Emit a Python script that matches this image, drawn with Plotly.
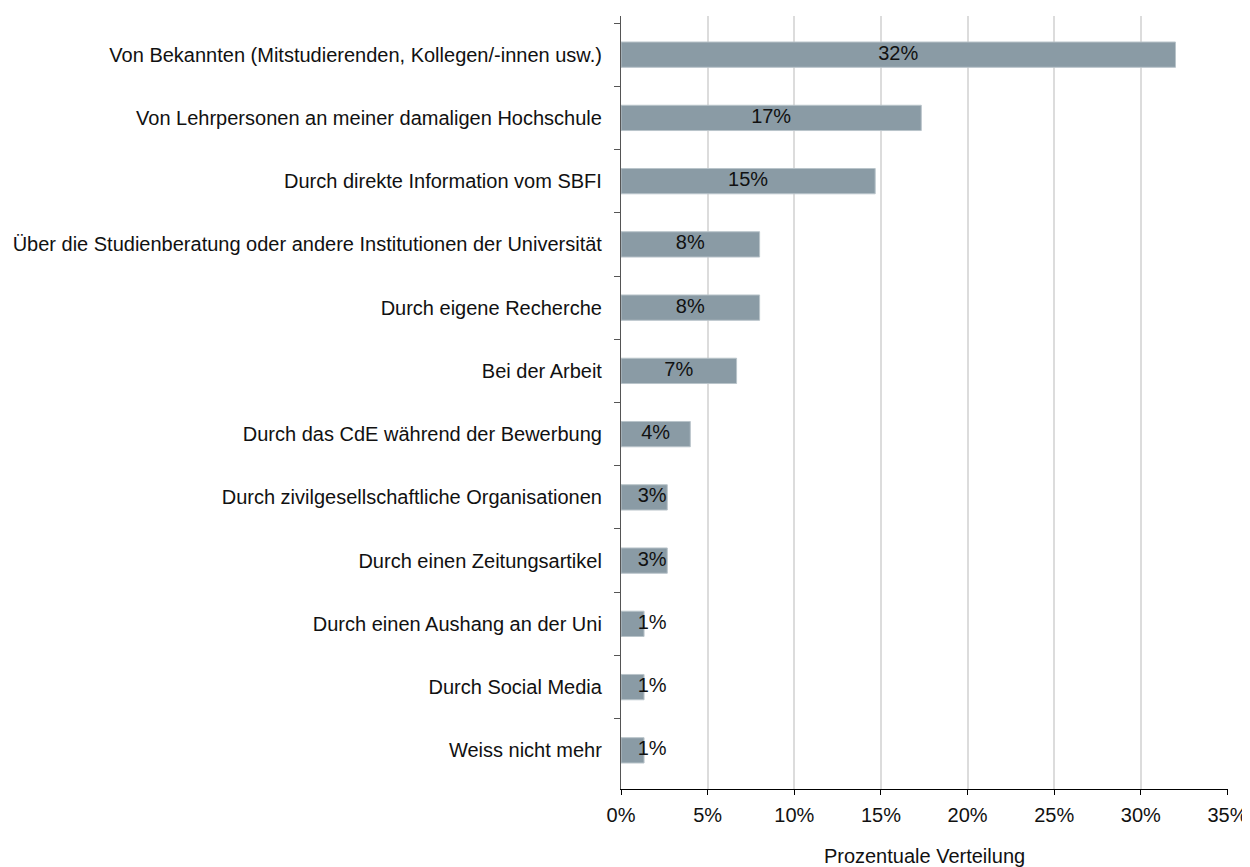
import plotly.graph_objects as go

# survey answers: how respondents heard about it (share in %)
categories = [
    "Von Bekannten (Mitstudierenden, Kollegen/-innen usw.)",
    "Von Lehrpersonen an meiner damaligen Hochschule",
    "Durch direkte Information vom SBFI",
    "Über die Studienberatung oder andere Institutionen der Universität",
    "Durch eigene Recherche",
    "Bei der Arbeit",
    "Durch das CdE während der Bewerbung",
    "Durch zivilgesellschaftliche Organisationen",
    "Durch einen Zeitungsartikel",
    "Durch einen Aushang an der Uni",
    "Durch Social Media",
    "Weiss nicht mehr",
]
shares = [32.0, 17.33, 14.67, 8.0, 8.0, 6.67, 4.0, 2.67, 2.67, 1.33, 1.33, 1.33]
labels = ["32%", "17%", "15%", "8%", "8%", "7%", "4%", "3%", "3%", "1%", "1%", "1%"]

tick_vals = [0, 5, 10, 15, 20, 25, 30, 35]
tick_text = ["0%", "5%", "10%", "15%", "20%", "25%", "30%", "35%"]

font = "Liberation Sans, Arial, sans-serif"

fig = go.Figure()
fig.add_trace(go.Bar(
    x=shares, y=categories, orientation="h",
    marker=dict(color="#8a9ba5", line=dict(color="#b9c4ca", width=1)),
    hoverinfo="x+y",
))

# labels centred on the bar, nudged right for the very short ones
fig.add_trace(go.Scatter(
    x=[max(v / 2, 1.8) for v in shares], y=categories,
    mode="text", text=labels,
    textfont=dict(family=font, size=20, color="#111111"),
    hoverinfo="skip",
))

# page has an 8px body margin, so keep the figure a bit smaller than the window
fig.update_layout(
    width=1242, height=859,
    margin=dict(l=613, r=22, t=8, b=78),
    plot_bgcolor="white", paper_bgcolor="white",
    showlegend=False,
    bargap=0.6,
    font=dict(family=font, size=20, color="#111111"),
)
fig.update_xaxes(
    range=[0, 35.03], tickvals=tick_vals, ticktext=tick_text,
    showgrid=True, gridcolor="#dcdcdc", gridwidth=1.5,
    showline=True, linecolor="#000000", linewidth=1.2,
    ticks="outside", ticklen=5, tickcolor="#000000",
    zeroline=False, ticklabelstandoff=3, automargin=False,
    title=dict(text="Prozentuale Verteilung", standoff=29, font=dict(size=20)),
    tickfont=dict(size=20),
)
fig.update_yaxes(
    autorange="reversed", automargin=False,
    showline=True, linecolor="#555555", linewidth=1.2,
    ticks="outside", tickson="boundaries", ticklen=6, tickcolor="#555555",
    showgrid=False, tickfont=dict(size=20),
    ticklabelstandoff=14,
)

fig.write_html("out.html")
